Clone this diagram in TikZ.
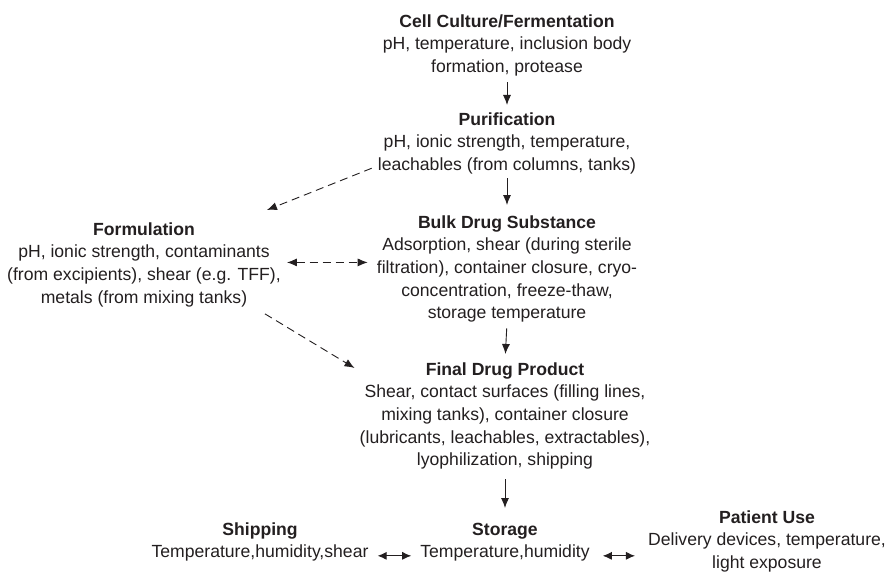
\documentclass[tikz,border=0pt]{standalone}
\usepackage{fontspec}
\setmainfont{Liberation Sans}
\usetikzlibrary{arrows.meta}
\definecolor{ink}{RGB}{35,31,32}
\newcommand\tstr{\rule{0pt}{13pt}}
\begin{document}
\begin{tikzpicture}[x=1pt,y=-1pt,
  blk/.style={align=center, inner sep=0pt, anchor=north, text=ink,
    font=\fontsize{17.6}{22.6}\selectfont},
  flow/.style={draw=ink, line width=0.9pt, -{Latex[length=10pt,width=8pt]}},
  dflow/.style={flow, dash pattern=on 8pt off 5pt},
  bflow/.style={draw=ink, line width=0.9pt, {Latex[length=9pt,width=8pt]}-{Latex[length=9pt,width=8pt]}}]
\useasboundingbox[fill=white] (0,0) rectangle (888,572);

\node[blk] (cell) at (507,14) {\tstr\textbf{Cell Culture/Fermentation}\\pH, temperature, inclusion body\\formation, protease};
\node[blk] (purif) at (507,112) {\tstr\textbf{Purification}\\pH, ionic strength, temperature,\\leachables (from columns, tanks)};
\node[blk] (bulk) at (507,215) {\tstr\textbf{Bulk Drug Substance}\\Adsorption, shear (during sterile\\filtration), container closure, cryo-\\concentration, freeze-thaw,\\storage temperature};
\node[blk] (final) at (505,362) {\tstr\textbf{Final Drug Product}\\Shear, contact surfaces (filling lines,\\mixing tanks), container closure\\(lubricants, leachables, extractables),\\lyophilization, shipping};
\node[blk] (form) at (144,222) {\tstr\textbf{Formulation}\\pH, ionic strength, contaminants\\(from excipients), shear (e.g. TFF),\\metals (from mixing tanks)};
\node[blk] (ship) at (260,522) {\tstr\textbf{Shipping}\\Temperature,humidity,shear};
\node[blk] (store) at (505,522) {\tstr\textbf{Storage}\\Temperature,humidity};
\node[blk] (patient) at (767,510) {\tstr\textbf{Patient Use}\\Delivery devices, temperature,\\light exposure};

\draw[flow, shorten <=6pt, shorten >=7pt] (cell.south) -- (purif.north);
\draw[flow, shorten <=4pt, shorten >=10pt] (purif.south) -- (bulk.north);
\draw[flow, shorten <=6pt, shorten >=8pt] (bulk.south) -- (final.north);
\draw[flow, shorten <=10pt, shorten >=14pt] (final.south) -- (store.north);

\draw[dflow] ([shift={(-6,-6)}]purif.south west) -- ([shift={(-14,-12)}]form.north east);
\coordinate (dl) at ([shift={(6,-2)}]form.east);
\draw[dflow, {Latex[length=10pt,width=8pt]}-{Latex[length=10pt,width=8pt]}] (dl) -- ([xshift=-9pt]dl -| bulk.west);
\draw[dflow] ([shift={(-16,7)}]form.south east) -- ([shift={(-5,6)}]final.north west);

\coordinate (bl) at ([yshift=-14pt]ship.east);
\draw[bflow] ([xshift=9pt]bl) -- ([xshift=-9pt]bl -| store.west);
\coordinate (br) at ([yshift=-14pt]store.east);
\draw[bflow] ([xshift=13pt]br) -- ([xshift=-13pt]br -| patient.west);
\end{tikzpicture}
\end{document}
